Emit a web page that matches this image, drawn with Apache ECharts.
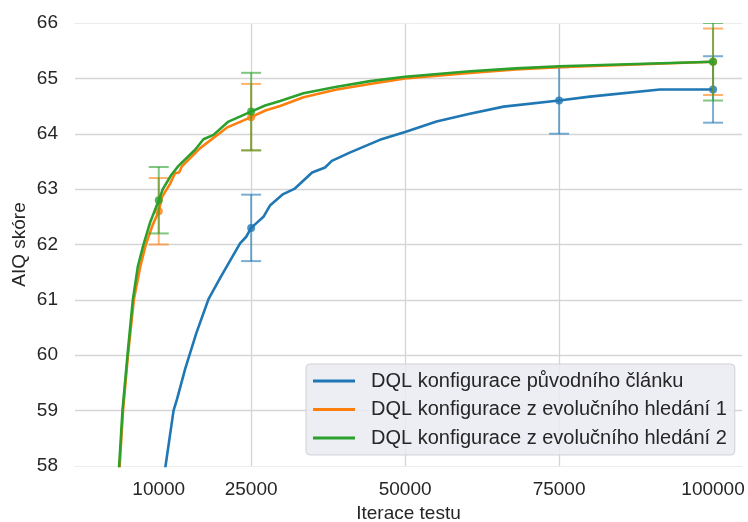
<!DOCTYPE html>
<html>
<head>
<meta charset="utf-8">
<script src="https://cdn.jsdelivr.net/npm/echarts@6/dist/echarts.min.js"></script>
<style>html,body{margin:0;padding:0;background:#fff}#c{width:748px;height:522px}</style>
</head>
<body>
<div id="c"></div>
<script>
// ---- data ----
const seriesNames = ['DQL konfigurace původního článku', 'DQL konfigurace z evolučního hledání 1', 'DQL konfigurace z evolučního hledání 2'];
const xTicks = [10000, 25000, 50000, 75000, 100000];

const blueX = [10000, 11100, 12400, 13000, 14300, 16100, 18100, 20000, 23200, 24200, 25000, 26000, 27000, 28100, 30200, 32100, 34900, 37000, 38100, 41000, 45900, 50000, 55100, 60500, 66000, 75000, 80000, 91400, 100000];
const blueY = [57.2, 58.0, 59.0, 59.22, 59.76, 60.4, 61.02, 61.4, 62.02, 62.14, 62.3, 62.4, 62.5, 62.71, 62.91, 63.01, 63.3, 63.39, 63.51, 63.66, 63.89, 64.03, 64.22, 64.36, 64.49, 64.6, 64.67, 64.8, 64.8];

const orangeX = [2500, 3650, 4200, 5000, 5950, 7000, 7900, 9000, 10000, 10500, 11850, 12660, 13300, 13750, 16720, 21040, 25000, 27300, 29700, 33500, 38900, 44300, 50000, 60500, 68000, 75000, 100000];
const orangeY = [55.5, 58, 59, 60, 61, 61.6, 62, 62.35, 62.6, 62.85, 63.1, 63.29, 63.3, 63.41, 63.74, 64.11, 64.3, 64.42, 64.5, 64.66, 64.8, 64.9, 65.0, 65.1, 65.16, 65.2, 65.3];

const greenX = [2500, 3570, 4110, 4920, 5790, 6600, 7520, 8600, 10000, 10660, 12000, 13200, 15900, 17260, 18880, 21320, 25000, 27270, 29710, 33490, 38910, 44320, 50000, 60550, 68000, 75000, 100000];
const greenY = [55.6, 58, 59, 60, 61, 61.6, 62, 62.4, 62.8, 63.0, 63.25, 63.42, 63.71, 63.9, 63.98, 64.22, 64.4, 64.51, 64.59, 64.73, 64.85, 64.95, 65.03, 65.13, 65.18, 65.22, 65.3];

// error bars: x, mean, half-width
const blueErrX = [25000, 75000, 100000];
const blueErrMean = [62.3, 64.6, 64.8];
const blueErr = [0.6, 0.6, 0.6];
const orangeErrX = [10000, 25000, 100000];
const orangeErrMean = [62.6, 64.3, 65.3];
const orangeErr = [0.6, 0.6, 0.6];
const greenErrX = [10000, 25000, 100000];
const greenErrMean = [62.8, 64.4, 65.3];
const greenErr = [0.6, 0.7, 0.7];

// ---- chart ----
const colors = ['#1f77b4', '#ff7f0e', '#2ca02c'];
const zip = (a, b) => a.map((v, i) => [v, b[i]]);
const errData = (xs, ms, es) => xs.map((x, i) => [x, ms[i] - es[i], ms[i] + es[i]]);

function errSeries(name, color, xs, ms, es, z) {
  return {
    type: 'custom', name: name, z: z, silent: true,
    clip: true,
    data: errData(xs, ms, es),
    encode: { x: 0, y: [1, 2] },
    renderItem: function (params, api) {
      const x = api.value(0);
      const lo = api.coord([x, api.value(1)]);
      const hi = api.coord([x, api.value(2)]);
      const w = 10;
      const style = { stroke: color, lineWidth: 2, opacity: 0.6 };
      return {
        type: 'group', children: [
          { type: 'line', shape: { x1: lo[0], y1: lo[1], x2: hi[0], y2: hi[1] }, style: style },
          { type: 'line', shape: { x1: lo[0] - w, y1: lo[1], x2: lo[0] + w, y2: lo[1] }, style: style },
          { type: 'line', shape: { x1: hi[0] - w, y1: hi[1], x2: hi[0] + w, y2: hi[1] }, style: style }
        ]
      };
    }
  };
}
function lineSeries(name, color, xs, ys, z) {
  return {
    type: 'line', name: name, z: z, data: zip(xs, ys), showSymbol: false, symbol: 'none',
    lineStyle: { color: color, width: 2.6 }, itemStyle: { color: color }, clip: true, silent: true
  };
}
function markerSeries(name, color, xs, ys, z) {
  return {
    type: 'scatter', name: name, z: z, data: zip(xs, ys), symbol: 'circle', symbolSize: 8,
    itemStyle: { color: color }, silent: true, clip: true
  };
}

const font = "'Liberation Sans', Arial, sans-serif";
const txt = '#262626';

const chart = echarts.init(document.getElementById('c'), null, { renderer: 'canvas' });
chart.setOption({
  animation: false,
  backgroundColor: '#ffffff',
  grid: { left: 75, right: 6, top: 23, bottom: 56, containLabel: false, outerBoundsMode: 'none' },
  legend: {
    orient: 'vertical', left: 306, top: 364,
    data: seriesNames,
    icon: 'rect', itemWidth: 42, itemHeight: 3, itemGap: 8.5,
    padding: [7, 8, 7, 7],
    backgroundColor: 'rgba(234,234,242,0.85)', borderColor: 'rgba(205,205,210,0.9)', borderWidth: 1, borderRadius: 4,
    textStyle: { fontFamily: font, fontSize: 20, color: txt, lineHeight: 20, padding: [0, 0, 0, 11] }
  },
  xAxis: [{
    type: 'value', min: -3600, max: 104700,
    name: 'Iterace testu', nameLocation: 'middle', nameGap: 36,
    nameTextStyle: { fontFamily: font, fontSize: 19, color: txt },
    axisLine: { show: true, lineStyle: { color: '#ececec', width: 1 } },
    axisTick: { show: false, customValues: xTicks },
    axisLabel: { customValues: xTicks, fontFamily: font, fontSize: 19, color: txt, margin: 14, formatter: v => String(v) },
    splitLine: { show: true, showMinLine: false, showMaxLine: false, lineStyle: { color: '#d5d5d5', width: 1.3 } }
  }, {
    type: 'value', position: 'top', min: -3600, max: 104700,
    axisLine: { show: true, lineStyle: { color: '#ececec', width: 1 } },
    axisTick: { show: false }, axisLabel: { show: false }, splitLine: { show: false }
  }],
  yAxis: {
    type: 'value', min: 58, max: 66, interval: 1,
    name: 'AIQ skóre', nameLocation: 'middle', nameGap: 46, nameMoveOverlap: false,
    nameTextStyle: { fontFamily: font, fontSize: 19, color: txt },
    axisLine: { show: false }, axisTick: { show: false },
    axisLabel: { fontFamily: font, fontSize: 19, color: txt, margin: 17 },
    splitLine: { show: true, showMinLine: false, showMaxLine: false, lineStyle: { color: '#d5d5d5', width: 1.3 } }
  },
  series: [
    lineSeries(seriesNames[0], colors[0], blueX, blueY, 2),
    errSeries('e0', colors[0], blueErrX, blueErrMean, blueErr, 3),
    markerSeries('m0', colors[0], blueErrX, blueErrMean, 3),
    lineSeries(seriesNames[1], colors[1], orangeX, orangeY, 4),
    errSeries('e1', colors[1], orangeErrX, orangeErrMean, orangeErr, 5),
    markerSeries('m1', colors[1], orangeErrX, orangeErrMean, 5),
    lineSeries(seriesNames[2], colors[2], greenX, greenY, 6),
    errSeries('e2', colors[2], greenErrX, greenErrMean, greenErr, 7),
    markerSeries('m2', colors[2], greenErrX, greenErrMean, 7)
  ]
});
</script>
</body>
</html>
